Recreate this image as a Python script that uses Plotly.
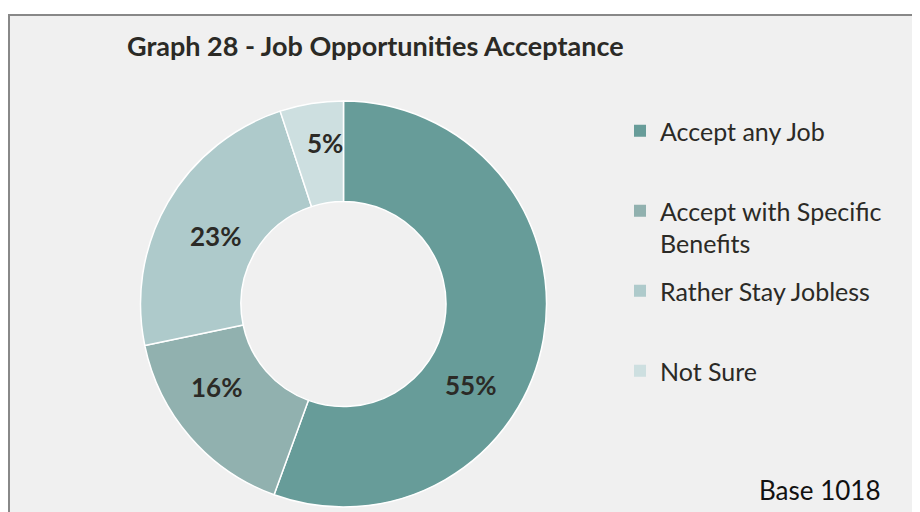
import plotly.graph_objects as go

W, H = 920, 512
OFF = 8  # page body margin offsets the figure

categories = ["Accept any Job", "Accept with Specific Benefits", "Rather Stay Jobless", "Not Sure"]
values = [55, 16, 23, 5]
legend_text = [
    "Accept any Job<br> ",
    "Accept with Specific<br>Benefits",
    "Rather Stay Jobless<br> ",
    "Not Sure",
]
colors = ["#679c99", "#91b1af", "#aecacb", "#cddfe0"]

# label positions (px) as Excel placed them
label_xy = [(470, 385), (216, 387), (215, 236), (325, 143)]

FONT = "Lato"
DARK = "#2b2a26"


def px_x(x):
    return (x - OFF) / W


def px_y(y):
    return 1 - (y - OFF) / H


cx, cy, r = 343.5, 304, 203

fig = go.Figure()
fig.add_trace(
    go.Pie(
        labels=categories,
        values=values,
        sort=False,
        direction="clockwise",
        rotation=0,
        hole=0.505,
        marker=dict(colors=colors, line=dict(color="white", width=1.5)),
        textinfo="none",
        showlegend=False,
        hovertemplate="%{label}: %{value}%<extra></extra>",
        domain=dict(x=[px_x(cx - r), px_x(cx + r)], y=[px_y(cy + r), px_y(cy - r)]),
    )
)

# legend entries (Excel spreads them evenly)
for name, txt, col in zip(categories, legend_text, colors):
    fig.add_trace(
        go.Scatter(
            x=[None], y=[None], mode="markers", name=txt, legendgroup=name,
            marker=dict(symbol="square", size=12, color=col, line=dict(width=0)),
        )
    )

for v, (x, y) in zip(values, label_xy):
    fig.add_annotation(
        x=px_x(x), y=px_y(y), xref="paper", yref="paper",
        xanchor="center", yanchor="middle",
        text=f"<b>{v}%</b>", showarrow=False,
        font=dict(family=FONT, size=26, color=DARK),
    )

# chart area background with border on top/left
fig.add_shape(
    type="rect", xref="paper", yref="paper",
    x0=px_x(9), x1=1.05, y0=-0.05, y1=px_y(15),
    fillcolor="#f0f0f0", line=dict(color="#888888", width=2), layer="below",
)

fig.add_annotation(
    x=px_x(125), y=px_y(45), xref="paper", yref="paper",
    xanchor="left", yanchor="middle",
    text="<b>Graph 28 - Job Opportunities Acceptance</b>", showarrow=False,
    font=dict(family=FONT, size=27, color=DARK),
)
fig.add_annotation(
    x=px_x(883), y=px_y(490), xref="paper", yref="paper",
    xanchor="right", yanchor="middle",
    text="Base 1018", showarrow=False,
    font=dict(family=FONT, size=26, color="#111111"),
)

fig.update_layout(
    width=W, height=H,
    margin=dict(l=0, r=0, t=0, b=0),
    paper_bgcolor="white",
    plot_bgcolor="rgba(0,0,0,0)",
    xaxis=dict(visible=False),
    yaxis=dict(visible=False),
    showlegend=True,
    legend=dict(
        x=px_x(620), y=px_y(108), xanchor="left", yanchor="top",
        valign="top", bgcolor="rgba(0,0,0,0)",
        font=dict(family=FONT, size=25, color=DARK),
        tracegroupgap=12,
    ),
)

fig.write_html("out.html")
